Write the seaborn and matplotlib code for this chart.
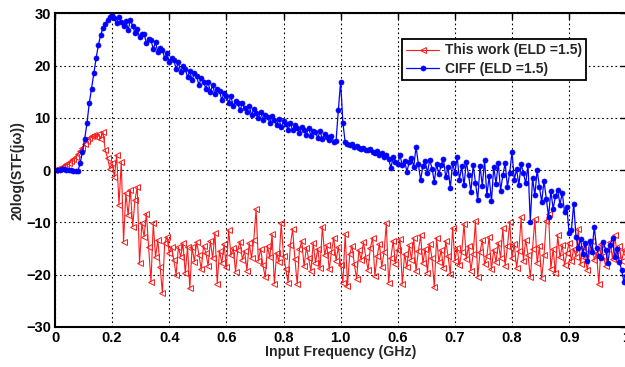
import numpy as np
import pandas as pd
import matplotlib
matplotlib.use("Agg")
import matplotlib.pyplot as plt
import seaborn as sns

# ---------------- data ----------------
step = 0.004  # sample spacing in axis units (one tick = 0.1)

red_db = [
    0.0, 0.2, 0.4, 0.6, 0.8, 1.1, 1.4, 1.8, 2.2, 2.6,
    3.1, 3.7, 4.3, 5.0, 5.6, 6.1, 6.5, 6.8, 6.3, 6.9,
    6.0, 7.3, 3.8, 2.3, 0.3, 1.3, -1.3, 2.9, -6.7, 1.6,
    -13.7, -4.4, -8.6, -3.8, -10.8, -5.7, -3.2, -17.8, -10.2, -12.7,
    -8.3, -14.7, -21.4, -10.2, -16.6, -13.4, -18.5, -23.5, -14.0, -12.7,
    -15.9, -14.7, -17.2, -20.0, -14.7, -16.6, -14.0, -19.7, -14.7, -22.6,
    -14.7,
    -17.5, -13.8, -16.2, -19.0, -14.5, -15.8, -18.3, -13.6, -16.9, -12.0,
    -21.7, -15.4, -17.8, -14.2, -18.6, -11.5, -16.3, -14.9, -19.4, -15.2,
    -13.7, -17.1, -15.5, -19.2, -14.0, -16.8, -13.3, -7.5, -17.4, -15.0,
    -18.2, -20.5, -14.6, -16.7, -12.3, -21.7, -15.9, -17.6, -10.2, -16.4,
    -18.9, -21.5, -14.3, -11.3, -17.0, -21.8, -15.1, -13.6, -18.4, -14.8,
    -16.9, -19.3, -13.9, -17.7, -15.0, -18.8, -10.8, -16.2, -14.4, -19.0,
    -15.6, -12.9, -17.3, -14.7, -18.1, -21.5, -12.2, -22.1, -16.0, -14.5,
    -18.0, -20.8, -15.3, -17.2, -13.8, -16.6, -19.1, -14.9, -12.9, -20.2,
    -16.4, -14.1, -18.5, -15.7, -10.2, -21.5, -16.8, -13.5, -17.9, -15.2,
    -13.2, -21.8, -16.0, -18.6, -14.4, -17.1, -13.0, -19.3, -15.5, -12.5,
    -17.8, -15.0, -19.6, -14.2, -16.9, -22.4, -12.9, -17.5, -15.3, -18.7,
    -13.6, -16.4, -19.9, -11.0, -17.3, -14.8, -18.2, -15.6, -10.3, -17.0,
    -14.5, -19.2, -16.1, -9.8, -20.4, -15.7, -13.4, -18.0, -16.5, -12.7,
    -19.0, -15.2, -17.6, -13.9, -16.8, -11.1, -18.3, -14.6, -10.0, -16.9,
    -14.1, -18.7, -15.5, -9.0, -17.4, -13.3, -16.2, -20.5, -15.0, -9.4,
    -17.8, -14.6, -20.7, -16.3, -9.7, -8.3, -18.9, -15.1, -19.6, -12.5,
    -16.7, -14.3, -18.2, -15.8, -13.9, -17.4, -15.0, -16.6, -11.3, -18.0,
    -14.7, -16.9, -19.1, -15.4, -13.6, -17.2, -15.9, -21.8, -14.2, -16.5,
    -18.3, -15.1, -13.8, -17.0, -12.5, -16.2, -14.6, -17.4, -15.3, -16.0,
]

blue_db = [
    0.0, 0.1, 0.1, 0.2, 0.2, 0.1, 0.1, 0.0, -0.1, -0.2,
    -0.2, 1.3, 3.5, 6.0, 9.0, 12.8, 15.6, 18.5, 21.4, 24.0,
    25.8, 27.2, 28.0, 28.7, 29.2, 29.6,
    29.0, 28.1, 29.3, 28.4, 27.5, 28.6, 26.8, 28.7, 27.6, 26.2,
    26.9, 25.4, 26.1, 26.0, 24.3, 25.1, 24.8, 23.2, 24.4, 22.6,
    23.3, 23.0, 21.4, 22.3, 20.6, 21.5, 21.0, 19.4, 20.6, 18.8,
    19.9, 19.3, 17.8, 18.9, 17.2, 18.6, 17.9, 16.3, 17.6, 16.9,
    15.6, 16.8, 15.0, 16.2, 14.5, 15.6, 15.1, 13.4, 14.8, 14.2,
    12.9, 14.1, 12.2, 13.3, 12.8, 11.4, 12.9, 11.8, 11.2, 12.3,
    10.5, 11.6, 10.9, 9.9, 11.2, 9.5, 10.6, 10.2, 9.0, 10.4,
    9.6, 8.6, 9.8, 8.2, 9.3, 8.9, 7.7, 9.0, 7.6, 8.6,
    8.1, 7.1, 8.3, 7.6, 6.8, 8.0, 6.6, 7.5, 7.2, 6.2,
    7.4, 6.0, 6.9, 6.4, 5.7, 6.6, 5.3, 5.5, 11.5, 16.9,
    9.0, 5.3, 5.0, 4.8, 4.9, 4.5, 4.6, 4.3, 4.1, 4.3,
    3.9, 3.8, 4.0, 3.5, 3.2, 3.6, 2.9, 3.3, 2.6, 2.9,
    2.2, 0.4, 2.5, 1.6, 1.2, 2.8, 0.9, 1.8, -0.3, 1.5,
    2.4, 0.6, 4.5, 1.2, -1.9, 0.8, 1.7, -0.5, 2.0, 0.3,
    -2.2, 1.1, -0.8, 0.9, 2.2, -1.4, 0.5, -3.5, 1.4, -0.6,
    2.5, -1.8, 0.7, -2.9, 1.6, -0.9, -4.2, 1.0, -2.4, -5.7,
    0.8, -3.0, 1.9, -4.8, -1.2, -6.0, 0.6, -2.6, 1.3, -3.9,
    -1.0, 1.3, -3.2, -0.5, 3.5, -1.9, 0.2, -2.8, 1.1, -0.6,
    -2.5, 1.0, -9.9, -1.5, -4.8, 0.0, -3.2, -6.1, -2.0, -5.5,
    -8.9, -4.0, -7.4, -5.0, -3.8, -6.6, -4.3, -8.1, -7.0, -12.1,
    -11.5, -6.4, -12.7, -14.8, -13.2, -16.1, -14.0, -17.3, -13.5, -15.6,
    -10.8, -14.9, -16.4, -16.9, -13.8, -15.2, -17.8, -14.3, -12.9, -16.7,
    -15.0, -17.6, -19.1, -21.4, -20.2,
]

series_names = ["This work (ELD =1.5)", "CIFF (ELD =1.5)"]
x_tick_pos = [0.0, 0.1, 0.2, 0.3, 0.4, 0.5, 0.6, 0.7, 0.8, 0.9, 1.0]
x_tick_labels = ["0", "0.2", "0.4", "0.6", "0.8", "1.0", "0.6", "0.7", "0.8", "0.9", "1"]
y_ticks = [-30, -20, -10, 0, 10, 20, 30]

red_x = np.arange(len(red_db)) * step
blue_x = np.arange(len(blue_db)) * step

df = pd.concat([
    pd.DataFrame({"x": red_x, "y": red_db, "series": series_names[0]}),
    pd.DataFrame({"x": blue_x, "y": blue_db, "series": series_names[1]}),
])

# ---------------- style ----------------
sns.set_theme(style="white")
plt.rcParams["font.family"] = ["Liberation Sans", "DejaVu Sans"]
plt.rcParams["font.weight"] = "bold"
plt.rcParams["axes.labelweight"] = "bold"

fig = plt.figure(figsize=(6.25, 3.67), dpi=100)
ax = fig.add_axes([0.088, 0.109, 0.914, 0.855])

sns.lineplot(data=df[df.series == series_names[0]], x="x", y="y", ax=ax,
             color="#ff1a1a", lw=0.8, marker="<", markersize=4.2,
             markerfacecolor="none", markeredgecolor="#ff1a1a",
             markeredgewidth=0.7, estimator=None, sort=False,
             label=series_names[0])
sns.lineplot(data=df[df.series == series_names[1]], x="x", y="y", ax=ax,
             color="#0000ff", lw=0.9, marker="o", markersize=3.6,
             markerfacecolor="#0000ff", markeredgecolor="#0000ff",
             markeredgewidth=0.5, estimator=None, sort=False,
             label=series_names[1])

ax.set_xlim(0, 1)
ax.set_ylim(-30, 30)
ax.set_xticks(x_tick_pos)
ax.set_xticklabels(x_tick_labels)
ax.set_yticks(y_ticks)
ax.tick_params(direction="in", top=True, right=True, length=4, width=1,
               labelsize=10.5, pad=3, colors="black")
for lab in ax.get_xticklabels() + ax.get_yticklabels():
    lab.set_fontweight("bold")

ax.grid(True, color="black", linestyle=(0, (1.5, 2.5)), linewidth=0.8)
for s in ax.spines.values():
    s.set_color("black")
    s.set_linewidth(1.5)

ax.set_xlabel("Input Frequency (GHz)", fontsize=10.2, fontweight="bold", labelpad=0)
ax.set_ylabel("20log(STF(jω))", fontsize=10.2, fontweight="bold", labelpad=1)

leg = ax.legend(loc="upper right", bbox_to_anchor=(0.93, 0.917),
                borderaxespad=0, fancybox=False, framealpha=1,
                edgecolor="black", fontsize=10, handlelength=2.4,
                handletextpad=0.4, borderpad=0.3, labelspacing=0.3)
leg.get_frame().set_linewidth(1.3)
for t in leg.get_texts():
    t.set_fontweight("bold")

fig.savefig("out.png", dpi=100)
